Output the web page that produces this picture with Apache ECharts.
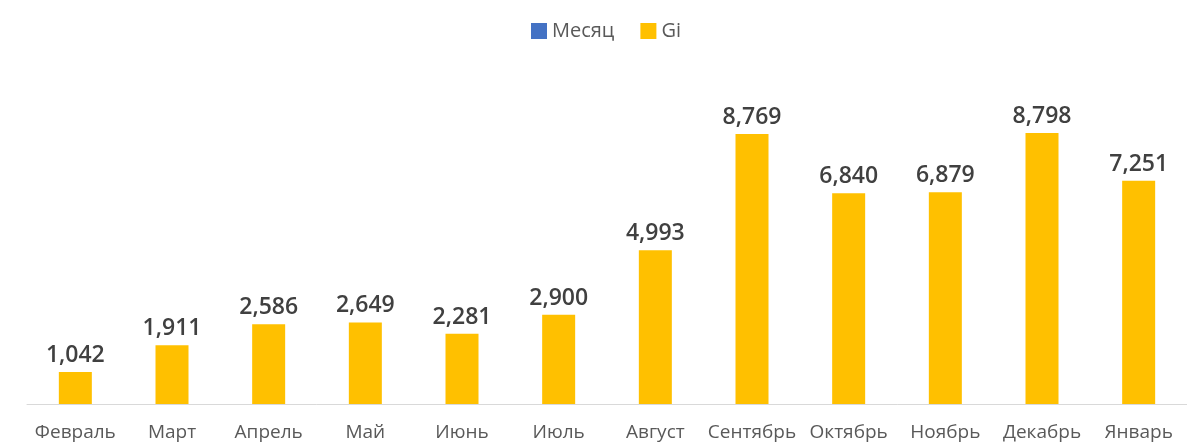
<!DOCTYPE html>
<html>
<head>
<meta charset="utf-8">
<script src="https://cdn.jsdelivr.net/npm/echarts@6/dist/echarts.min.js"></script>
<style>
  html, body { margin: 0; padding: 0; background: #fff; }
  #chart { width: 1187px; height: 444px; }
</style>
</head>
<body>
<div id="chart"></div>
<script>
// Monthly totals
const months = ['Февраль', 'Март', 'Апрель', 'Май', 'Июнь', 'Июль', 'Август',
  'Сентябрь', 'Октябрь', 'Ноябрь', 'Декабрь', 'Январь'];
const giValues = [1042, 1911, 2586, 2649, 2281, 2900, 4993, 8769, 6840, 6879, 8798, 7251];
// The "Месяц" series carries no plotted values; it only appears in the legend
const monthValues = [];

const chart = echarts.init(document.getElementById('chart'), null, { renderer: 'canvas' });

chart.setOption({
  animation: false,
  textStyle: { fontFamily: 'Open Sans, Noto Sans, sans-serif' },
  legend: {
    top: 16,
    left: 526,
    itemWidth: 16,
    itemHeight: 16,
    itemGap: 26,
    icon: 'rect',
    textStyle: { color: '#595959', fontSize: 20 },
    data: ['Месяц', 'Gi']
  },
  grid: { left: 27, width: 1175, top: 96, bottom: 40, containLabel: false },
  xAxis: {
    type: 'category',
    data: months,
    axisLine: { lineStyle: { color: '#d9d9d9', width: 1 } },
    axisTick: { show: false },
    axisLabel: { color: '#595959', fontSize: 19, margin: 19, interval: 0 }
  },
  yAxis: {
    type: 'value',
    min: 0,
    max: 10000,
    show: false,
    splitLine: { show: false }
  },
  series: [
    {
      name: 'Месяц',
      type: 'bar',
      data: monthValues,
      barWidth: 33,
      itemStyle: { color: '#4472C4' }
    },
    {
      name: 'Gi',
      type: 'bar',
      data: giValues,
      barWidth: 33,
      barGap: '-100%',
      itemStyle: { color: '#FFC000' },
      label: {
        show: true,
        position: 'top',
        distance: 5,
        color: '#404040',
        fontSize: 23,
        fontWeight: 600,
        formatter: p => p.value.toLocaleString('en-US')
      }
    }
  ]
});
</script>
</body>
</html>
